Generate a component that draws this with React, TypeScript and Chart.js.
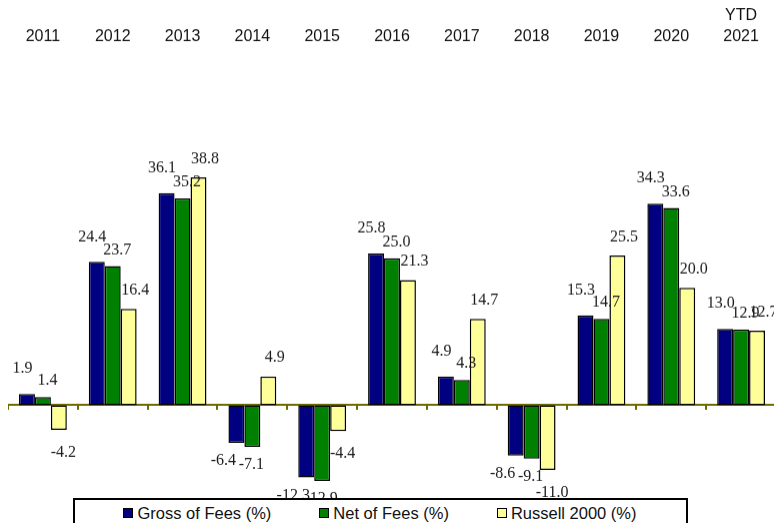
import React, { useEffect, useRef } from "react";
import { Chart, registerables } from "chart.js";

Chart.register(...registerables);

const categories: (string | string[])[] = [
  "2011", "2012", "2013", "2014", "2015", "2016", "2017", "2018", "2019", "2020", ["YTD", "2021"],
];
const seriesNames = ["Gross of Fees (%)", "Net of Fees (%)", "Russell 2000 (%)"];
const grossOfFees = [1.9, 24.4, 36.1, -6.4, -12.3, 25.8, 4.9, -8.6, 15.3, 34.3, 13.0];
const netOfFees = [1.4, 23.7, 35.2, -7.1, -12.9, 25.0, 4.3, -9.1, 14.7, 33.6, 12.9];
const russell2000 = [-4.2, 16.4, 38.8, 4.9, -4.4, 21.3, 14.7, -11.0, 25.5, 20.0, 12.7];
const seriesColors = ["#000080", "#008000", "#FFFF99"];
const yMin = -16;
const yMax = 60;

// label nudges per series: [dx positive, dy positive, dx negative, dy negative]
const labelNudges = [
  [-4.5, -25, -13, 18],
  [4.5, -16, -1, 18],
  [6.5, -18.5, 4.5, 22.5],
];

const SANS = '"Liberation Sans", Arial, sans-serif';
const SERIF = '"Liberation Serif", "Times New Roman", serif';

const valueLabels = {
  id: "valueLabels",
  afterDatasetsDraw(chart: any) {
    const ctx = chart.ctx;
    ctx.save();
    ctx.font = `16px ${SERIF}`;
    ctx.fillStyle = "#1a1a1a";
    ctx.textAlign = "center";
    ctx.textBaseline = "middle";
    chart.data.datasets.forEach((ds: any, i: number) => {
      const meta = chart.getDatasetMeta(i);
      const n = labelNudges[i];
      meta.data.forEach((bar: any, j: number) => {
        const v = ds.data[j] as number;
        const pos = v >= 0;
        const x = bar.x + (pos ? n[0] : n[2]);
        const y = bar.y + (pos ? n[1] : n[3]);
        ctx.fillText(v.toFixed(1), x, y);
      });
    });
    ctx.restore();
  },
};

export default function App() {
  const canvasRef = useRef<HTMLCanvasElement | null>(null);

  useEffect(() => {
    if (!canvasRef.current) return;
    const series = [grossOfFees, netOfFees, russell2000];
    const chart = new Chart(canvasRef.current, {
      type: "bar",
      data: {
        labels: categories as any,
        datasets: series.map((d, i) => ({
          label: seriesNames[i],
          data: d,
          backgroundColor: seriesColors[i],
          borderColor: "#000000",
          borderWidth: 1.5,
          borderSkipped: false,
          categoryPercentage: 0.685,
          barPercentage: 1.0,
          xAxisID: "x",
          yAxisID: "y",
        })),
      },
      options: {
        animation: false,
        responsive: true,
        maintainAspectRatio: false,
        layout: { padding: { top: 4, bottom: 27.3, left: 0, right: 0 } },
        plugins: {
          legend: { display: false },
          tooltip: { enabled: false },
        },
        scales: {
          x: {
            type: "category",
            position: "top",
            grid: { display: false, drawTicks: false },
            border: { display: false },
            ticks: {
              color: "#111111",
              font: { family: SANS, size: 16, lineHeight: 1.3 },
              padding: 5.5,
              maxRotation: 0,
              autoSkip: false,
            },
          },
          x2: {
            type: "category",
            position: { y: 0 } as any,
            offset: true,
            grid: {
              display: true,
              drawOnChartArea: false,
              drawTicks: true,
              tickLength: 4,
              color: "#6e6a00",
              lineWidth: 2,
              offset: true,
            },
            border: { display: true, color: "#6e6a00", width: 2 },
            ticks: { display: false },
          },
          y: {
            display: false,
            min: yMin,
            max: yMax,
          },
        },
      },
      plugins: [valueLabels],
    });
    return () => chart.destroy();
  }, []);

  return (
    <div
      style={{
        position: "absolute",
        left: 8,
        top: 0,
        width: 766,
        height: 523,
        overflow: "hidden",
        background: "#ffffff",
      }}
    >
      <div style={{ position: "relative", top: -3.8, width: 768, height: 529.5 }}>
        <canvas ref={canvasRef} />
      </div>
      <div
        style={{
          position: "absolute",
          left: 64.5,
          top: 498,
          width: 615,
          height: 34,
          border: "2px solid #000",
          boxSizing: "border-box",
          background: "#fff",
          display: "flex",
          justifyContent: "center",
          alignItems: "flex-start",
          gap: 48,
          paddingTop: 3,
          fontFamily: SANS,
          fontSize: 16.5,
          color: "#111",
        }}
      >
        {seriesNames.map((name, i) => (
          <div key={name} style={{ display: "flex", alignItems: "center", whiteSpace: "nowrap", lineHeight: "20px" }}>
            <span
              style={{
                display: "inline-block",
                width: 10,
                height: 10,
                boxSizing: "border-box",
                border: "1.5px solid #000",
                background: seriesColors[i],
                marginRight: 4,
              }}
            />
            <span>{name}</span>
          </div>
        ))}
      </div>
    </div>
  );
}
